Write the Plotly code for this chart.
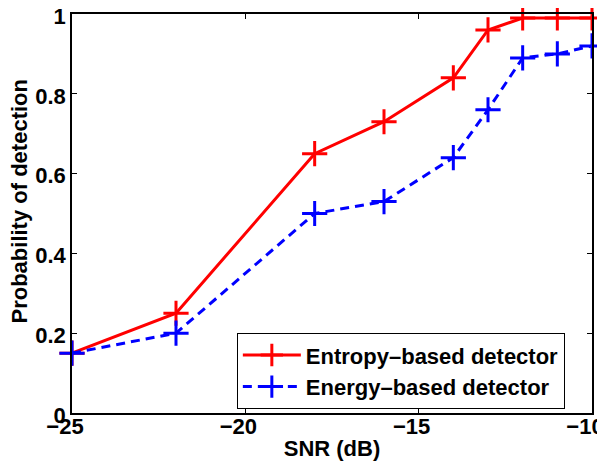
import plotly.graph_objects as go

snr = [-25, -22, -18, -16, -14, -13, -12, -11, -10]
entropy = [0.15, 0.25, 0.65, 0.73, 0.84, 0.96, 0.99, 0.99, 0.99]
energy = [0.15, 0.20, 0.50, 0.53, 0.64, 0.76, 0.89, 0.90, 0.92]

x_ticks = [-25, -20, -15, -10]
y_ticks = [0, 0.2, 0.4, 0.6, 0.8, 1]
y_tick_labels = ["0", "0.2", "0.4", "0.6", "0.8", "1"]

font = dict(family="Liberation Sans, Arial, sans-serif", size=22, color="black", weight="bold")

fig = go.Figure()
fig.add_trace(go.Scatter(
    x=snr, y=entropy, mode="lines+markers", name="Entropy\u2013based detector",
    line=dict(color="#ff0000", width=3),
    marker=dict(symbol="cross-thin", size=18, color="#ff0000", line=dict(color="#ff0000", width=3)),
    cliponaxis=False,
))
fig.add_trace(go.Scatter(
    x=snr, y=energy, mode="lines+markers", name="Energy\u2013based detector",
    line=dict(color="#0000ff", width=3, dash="9px,6px"),
    marker=dict(symbol="cross-thin", size=18, color="#0000ff", line=dict(color="#0000ff", width=3)),
    cliponaxis=False,
))

axis_common = dict(
    showline=True, linecolor="black", linewidth=1.5, mirror="ticks",
    ticks="inside", ticklen=5, tickwidth=1, tickcolor="black",
    showgrid=False, zeroline=False, tickfont=font, automargin=False,
    ticklabeloverflow="allow",
)

# page body has an 8px default margin, so the figure is offset by 8px
fig.update_layout(
    width=605, height=470,
    margin=dict(l=64, r=21, t=6, b=65),
    paper_bgcolor="white", plot_bgcolor="white",
    font=font,
    xaxis=dict(range=[-25, -10], tickvals=x_ticks, ticklabelshift=-7, ticklabelstandoff=-7,
               title=dict(text="SNR (dB)", font=font, standoff=2), **axis_common),
    yaxis=dict(range=[0, 1], tickvals=y_ticks, ticktext=y_tick_labels, ticklabelshift=2,
               **axis_common),
    legend=dict(
        x=0.317, y=0.2, xanchor="left", yanchor="top",
        bgcolor="white", bordercolor="black", borderwidth=1,
        font=font, tracegroupgap=0, itemwidth=58, entrywidth=266,
    ),
    showlegend=True,
    annotations=[dict(
        text="Probability of detection", textangle=-90, font=font,
        xref="paper", yref="paper", x=0, y=0.5, xanchor="center", yanchor="middle",
        xshift=-53, yshift=12, showarrow=False,
    )],
)

fig.write_html("out.html")
